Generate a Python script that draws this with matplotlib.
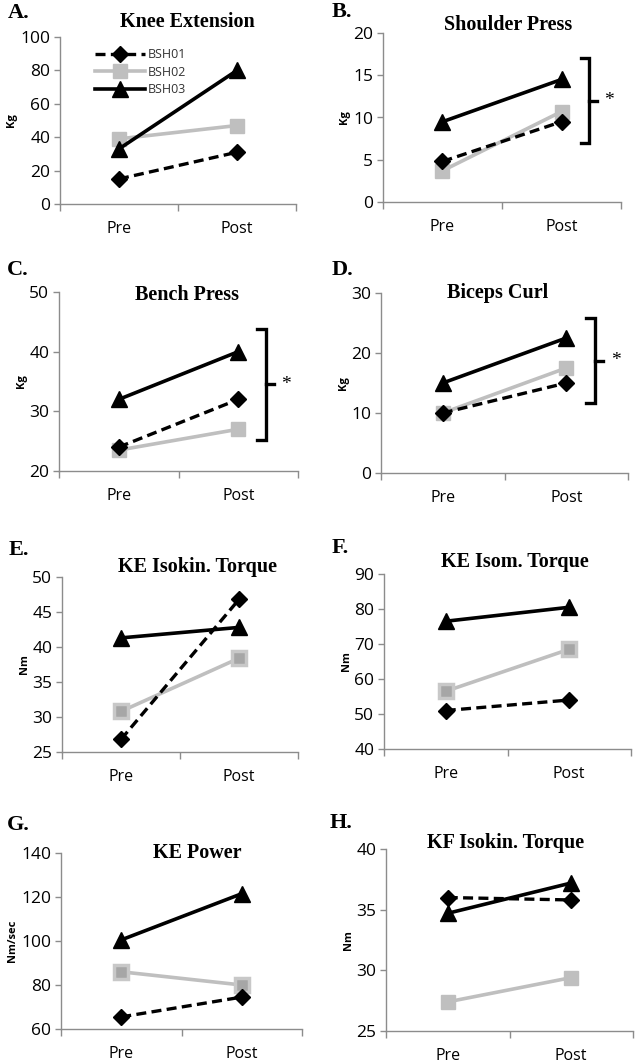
import matplotlib
matplotlib.use("Agg")
import matplotlib.pyplot as plt

# ------------------ data ------------------
SUBJECTS = ["BSH01", "BSH02", "BSH03"]
TIMEPOINTS = ["Pre", "Post"]

panel_letters = ["A.", "B.", "C.", "D.", "E.", "F.", "G.", "H."]
panel_titles = ["Knee Extension", "Shoulder Press", "Bench Press", "Biceps Curl",
                "KE Isokin. Torque", "KE Isom. Torque", "KE Power", "KF Isokin. Torque"]
y_units = ["Kg", "Kg", "Kg", "Kg", "Nm", "Nm", "Nm/sec", "Nm"]

bsh01 = [[15, 31], [4.8, 9.5], [24, 32], [10, 15],
         [26.8, 46.8], [51, 54], [65.5, 74.5], [36.0, 35.8]]
bsh02 = [[39, 47], [3.7, 10.7], [23.5, 27], [10, 17.5],
         [30.8, 38.4], [56.5, 68.5], [86, 80], [27.4, 29.4]]
bsh03 = [[33, 80], [9.5, 14.5], [32, 40], [15, 22.5],
         [41.3, 42.8], [76.5, 80.5], [100.5, 121.5], [34.7, 37.2]]

y_limits = [(0, 100), (0, 20), (20, 50), (0, 30), (25, 50), (40, 90), (60, 140), (25, 40)]
y_steps = [20, 5, 10, 10, 5, 10, 20, 5]

# significance brackets: panel index -> (y bottom, y top)
brackets = {1: (7, 17), 2: (25.2, 43.8), 3: (11.7, 25.8)}

# ------------------ layout (pixels of a 635x1062 canvas) ------------------
W, H = 635, 1062
# left, top, right, bottom of each plot area
boxes = [(60, 37, 296, 204), (383, 33, 621, 202),
         (59, 292, 298, 471), (381, 293, 628, 473),
         (62, 577, 298, 752), (384, 574, 631, 749),
         (61, 853, 302, 1029), (386, 849, 633, 1031)]
title_pos = [(187, 22), (508, 25), (187, 295), (498, 293),
             (197, 567), (515, 562), (197, 853), (506, 843)]
letter_pos = [(8, 13), (332, 12), (7, 270), (332, 270),
              (9, 550), (332, 548), (7, 825), (330, 823)]

SPINE = "#8c8c8c"
GRAY = "#bfbfbf"

fig = plt.figure(figsize=(W / 100, H / 100), dpi=100)

for i in range(8):
    l, t, r, b = boxes[i]
    ax = fig.add_axes([l / W, 1 - b / H, (r - l) / W, (b - t) / H])
    xs = [0.5, 1.5]

    ax.plot(xs, bsh01[i], color="black", lw=2.4, ls=(0, (3, 1.6)), marker="D",
            ms=8, mfc="black", mec="black", label=SUBJECTS[0], clip_on=False, zorder=3)
    if i in (4, 5, 6):
        ax.plot(xs, bsh02[i], color=GRAY, lw=2.6, marker="s", ms=10,
                mfc="#a6a6a6", mec="#c8c8c8", mew=2.5, label=SUBJECTS[1], clip_on=False, zorder=2)
    else:
        ax.plot(xs, bsh02[i], color=GRAY, lw=2.6, marker="s", ms=10,
                mfc=GRAY, mec=GRAY, label=SUBJECTS[1], clip_on=False, zorder=2)
    ax.plot(xs, bsh03[i], color="black", lw=2.6, marker="^", ms=11,
            mfc="black", mec="black", label=SUBJECTS[2], clip_on=False, zorder=4)

    lo, hi = y_limits[i]
    ax.set_xlim(0, 2)
    ax.set_ylim(lo, hi)
    ax.set_yticks(range(lo, hi + 1, y_steps[i]))
    ax.set_xticks([0, 1, 2])
    ax.set_xticklabels([])
    ax.set_xticks(xs, minor=True)
    ax.set_xticklabels(TIMEPOINTS, minor=True, fontsize=11.5, fontfamily="Open Sans")
    ax.tick_params(axis="x", which="major", length=5, color=SPINE, width=1)
    ax.tick_params(axis="x", which="minor", length=0, pad=12)
    ax.tick_params(axis="y", length=4, color=SPINE, width=1, pad=3)
    for lab in ax.get_yticklabels():
        lab.set_fontsize(12.5)
        lab.set_fontfamily("Open Sans")
    for s in ("top", "right"):
        ax.spines[s].set_visible(False)
    for s in ("left", "bottom"):
        ax.spines[s].set_color(SPINE)
        ax.spines[s].set_linewidth(1)

    ax.set_ylabel(y_units[i], fontsize=8, fontweight="bold", fontfamily="Open Sans", labelpad=2)

    if i in brackets:
        y0, y1 = brackets[i]
        xb = 1.73
        ax.plot([xb - 0.07, xb, xb, xb - 0.07], [y1, y1, y0, y0], color="black",
                lw=2.4, clip_on=False, solid_joinstyle="miter")
        ym = (y0 + y1) / 2
        ax.plot([xb, xb + 0.07], [ym, ym], color="black", lw=2.4, clip_on=False)
        ax.text(xb + 0.17, ym, "*", fontsize=14, fontfamily="Liberation Serif",
                ha="center", va="center")

    if i == 0:
        ax.legend(loc="upper left", bbox_to_anchor=(0.1, 1.0), frameon=False,
                  handlelength=4, labelspacing=0.35, handletextpad=0.2,
                  prop={"family": "Open Sans", "size": 9}, labelcolor="#333333")

    tx, ty = title_pos[i]
    fig.text(tx / W, 1 - ty / H, panel_titles[i], ha="center", va="center",
             fontsize=14.5, fontweight="bold", fontfamily="Liberation Serif")
    lx, ly = letter_pos[i]
    fig.text(lx / W, 1 - ly / H, panel_letters[i], ha="left", va="center",
             fontsize=16, fontweight="bold", fontfamily="Liberation Serif")

fig.savefig("out.png", dpi=100)
